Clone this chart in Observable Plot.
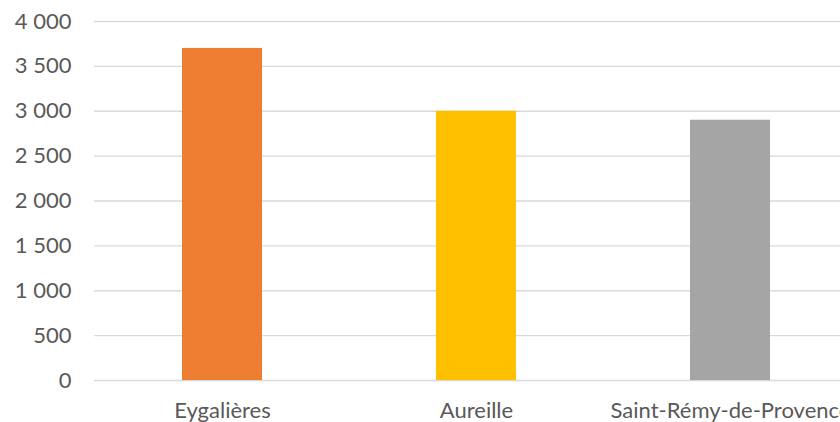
<!DOCTYPE html>
<html>
<head>
<meta charset="utf-8">
<script src="https://cdn.jsdelivr.net/npm/d3@7"></script>
<script src="https://cdn.jsdelivr.net/npm/@observablehq/plot@0.6"></script>
<style>
  html, body { margin: 0; padding: 0; background: #fff; overflow: hidden; }
  #chart { width: 840px; height: 422px; overflow: hidden; }
  #chart svg { max-width: none !important; }
</style>
</head>
<body>
<div id="chart"></div>
<script>
const communes = ["Eygalières", "Aureille", "Saint-Rémy-de-Provence"];
const values = [3700, 3000, 2900];
const colors = ["#ED7D31", "#FFC000", "#A5A5A5"];
const yTicks = [0, 500, 1000, 1500, 2000, 2500, 3000, 3500, 4000];

const data = communes.map((c, i) => ({commune: c, value: values[i], color: colors[i]}));
const fmt = d => d3.format(",")(d).replace(/,/g, " ");

const chart = Plot.plot({
  width: 858,
  height: 422,
  marginLeft: 94,
  marginRight: 1,
  marginTop: 21,
  marginBottom: 42,
  style: {fontFamily: "Lato, 'Open Sans', sans-serif", fontSize: "22px", color: "#595959", background: "#fff", overflow: "visible", maxWidth: "none"},
  x: {domain: communes, paddingInner: 0.686, paddingOuter: 0.343, label: null},
  y: {domain: [0, 4000], label: null},
  marks: [
    Plot.ruleY(yTicks, {stroke: "#d9d9d9", strokeWidth: 1.3}),
    Plot.barY(data, {x: "commune", y: "value", fill: d => d.color}),
    Plot.axisY({ticks: yTicks, tickFormat: fmt, tickSize: 0, tickPadding: 23, label: null, fill: "#595959", fontSize: 22}),
    Plot.axisX({tickSize: 0, tickPadding: 22, label: null, fill: "#595959", fontSize: 22})
  ]
});
document.getElementById("chart").appendChild(chart);
</script>
</body>
</html>
